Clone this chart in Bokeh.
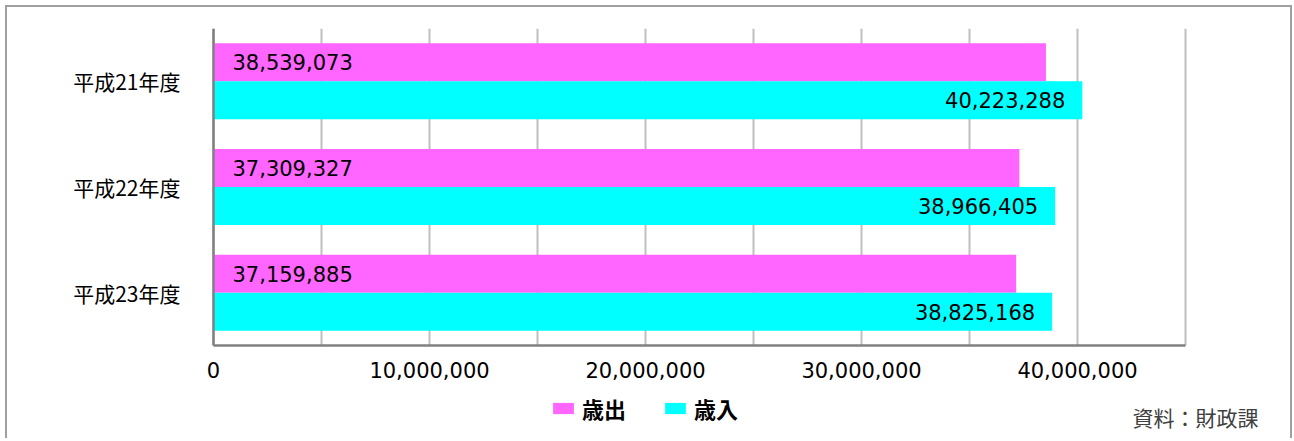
from bokeh.plotting import figure
from bokeh.models import (ColumnDataSource, Range1d, FixedTicker,
                          LabelSet, Label, Legend, LegendItem)
from bokeh.transform import dodge
from bokeh.embed import file_html
from bokeh.resources import INLINE
from bokeh.core.properties import value

# ---- data ----
categories = ["平成21年度", "平成22年度", "平成23年度"]
expenditure = [38539073, 37309327, 37159885]   # 歳出
revenue = [40223288, 38966405, 38825168]       # 歳入
series_names = ["歳出", "歳入"]
tick_values = [0, 5000000, 10000000, 15000000, 20000000, 25000000,
               30000000, 35000000, 40000000, 45000000]
tick_labels = ["0", "", "10,000,000", "", "20,000,000", "", "30,000,000",
               "", "40,000,000", ""]
source_note = "資料：財政課"

PINK = "#FF66FF"
CYAN = "#00FFFF"
NUM_FONT = "DejaVu Sans"
JP_FONT = "Noto Sans CJK JP"

n = len(categories)
cat_pos = [n - i for i in range(n)]          # top category first
y_lo, y_hi = 0.5, n + 0.5                     # extent of the category band
x_lo, x_hi = tick_values[0], tick_values[-1]  # extent of the value axis

src = ColumnDataSource(dict(
    pos=cat_pos,
    exp=expenditure,
    rev=revenue,
    exp_txt=[f"{v:,}" for v in expenditure],
    rev_txt=[f"{v:,}" for v in revenue],
    zero=[0] * n,
))
grid_src = ColumnDataSource(dict(x=tick_values,
                                 y0=[y_lo] * len(tick_values),
                                 y1=[y_hi] * len(tick_values)))

# layout (pixels)
FRAME_W, FRAME_H = 1283, 410
PLOT_LEFT, PLOT_W, PLOT_H = 206, 972, 317      # category band inside frame
PX_PER_CAT = PLOT_H / n
PX_PER_VAL = PLOT_W / (x_hi - x_lo)

p = figure(frame_width=FRAME_W, frame_height=FRAME_H,
           y_range=Range1d(y_hi - FRAME_H / PX_PER_CAT, y_hi),
           x_range=Range1d(x_lo - PLOT_LEFT / PX_PER_VAL,
                           x_lo + (FRAME_W - PLOT_LEFT) / PX_PER_VAL),
           output_backend="svg", toolbar_location=None,
           min_border_left=0, min_border_right=0,
           min_border_top=21, min_border_bottom=0)

p.styles = {"border-top": "2px solid #a0a0a0",
            "border-left": "2px solid #a0a0a0",
            "border-right": "2px solid #a0a0a0",
            "margin-left": "5px", "margin-top": "5px"}

p.outline_line_color = None
p.xgrid.visible = False
p.ygrid.visible = False

# vertical gridlines over the category band
p.segment(x0="x", x1="x", y0="y0", y1="y1", source=grid_src,
          line_color="#c0c0c0", line_width=2)

r_exp = p.hbar(y=dodge("pos", 0.18), right="exp", left=0,
               height=0.36, source=src, fill_color=PINK, line_color=None)
r_rev = p.hbar(y=dodge("pos", -0.18), right="rev", left=0,
               height=0.36, source=src, fill_color=CYAN, line_color=None)

# value labels
p.add_layout(LabelSet(x="zero", y=dodge("pos", 0.18),
                      text="exp_txt", source=src, x_offset=19,
                      text_align="left", text_baseline="middle",
                      text_font=value(NUM_FONT), text_font_size="21px",
                      text_color="#000000"))
p.add_layout(LabelSet(x="rev", y=dodge("pos", -0.18),
                      text="rev_txt", source=src, x_offset=-17,
                      text_align="right", text_baseline="middle",
                      text_font=value(NUM_FONT), text_font_size="21px",
                      text_color="#000000"))

# x axis at the bottom of the category band
p.xaxis.fixed_location = y_lo
p.xaxis.bounds = (x_lo, x_hi)
p.xaxis.ticker = FixedTicker(ticks=tick_values)
p.xaxis.major_label_overrides = {t: l for t, l in zip(tick_values, tick_labels)}
p.xaxis.axis_line_color = "#808080"
p.xaxis.axis_line_width = 2.5
p.xaxis.major_tick_line_color = None
p.xaxis.minor_tick_line_color = None
p.xaxis.major_label_standoff = 10
p.xaxis.major_label_text_font = NUM_FONT
p.xaxis.major_label_text_font_size = "21px"
p.xaxis.major_label_text_color = "#000000"

# y axis at value zero
p.yaxis.fixed_location = x_lo
p.yaxis.bounds = (y_lo, y_hi)
p.yaxis.ticker = FixedTicker(ticks=cat_pos)
p.yaxis.major_label_overrides = {pos: c for pos, c in zip(cat_pos, categories)}
p.yaxis.axis_line_color = "#808080"
p.yaxis.axis_line_width = 2.5
p.yaxis.major_tick_line_color = None
p.yaxis.minor_tick_line_color = None
p.yaxis.major_label_standoff = 27
p.yaxis.major_label_text_font = JP_FONT
p.yaxis.major_label_text_font_size = "21px"
p.yaxis.major_label_text_color = "#000000"

# legend under the axis labels
legend = Legend(items=[LegendItem(label=series_names[0], renderers=[r_exp]),
                       LegendItem(label=series_names[1], renderers=[r_rev])],
                orientation="horizontal", location=(543, 14),
                glyph_width=26, glyph_height=14, label_standoff=6,
                spacing=36, padding=0, margin=0,
                border_line_color=None, background_fill_alpha=0,
                label_text_font=JP_FONT, label_text_font_size="22px",
                label_text_font_style="bold", label_text_color="#000000")
p.add_layout(legend, "center")

# source note
p.add_layout(Label(x=1251, y=22, x_units="screen", y_units="screen",
                   text=source_note, text_align="right", text_baseline="middle",
                   text_font=JP_FONT, text_font_size="21px",
                   text_color="#404040"))

open("out.html", "w").write(file_html(p, INLINE))
